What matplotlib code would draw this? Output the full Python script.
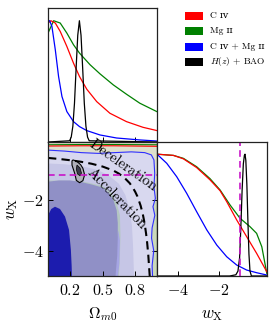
import matplotlib
matplotlib.use('Agg')
import matplotlib.pyplot as plt
from matplotlib.patches import Rectangle

plt.rcParams['mathtext.fontset'] = 'cm'
plt.rcParams['axes.unicode_minus'] = True

# ---------------- data ----------------
om_ticks = [0.2, 0.5, 0.8]
om_ticklabels = [r'$0.2$', r'$0.5$', r'$0.8$']
w_ticks = [-4, -2]
w_ticklabels = [r'$-4$', r'$-2$']

# 1D posterior of Omega_m0
om_green = [0.0, 0.052, 0.112, 0.173, 0.234, 0.289, 0.386, 0.477, 0.599, 0.72, 0.842, 1.0]
p_green = [0.898, 1.0, 0.981, 0.898, 0.802, 0.733, 0.637, 0.562, 0.471, 0.394, 0.32, 0.25]
om_red = [0.0, 0.027, 0.067, 0.112, 0.173, 0.234, 0.289, 0.356, 0.447, 0.568, 0.72, 0.872, 1.0]
p_red = [0.981, 1.0, 0.981, 0.912, 0.788, 0.65, 0.54, 0.435, 0.333, 0.237, 0.168, 0.121, 0.094]
om_blue = [0.0, 0.015, 0.036, 0.067, 0.097, 0.128, 0.173, 0.234, 0.289, 0.356, 0.477, 0.629, 0.842, 1.0]
p_blue = [1.0, 1.0, 0.953, 0.76, 0.54, 0.375, 0.251, 0.168, 0.127, 0.094, 0.058, 0.033, 0.017, 0.008]
om_black = [0.0, 0.198, 0.213, 0.228, 0.243, 0.258, 0.273, 0.288, 0.303, 0.318, 0.333, 0.348, 0.363, 0.378, 1.0]
p_black = [0.0, 0.01, 0.04, 0.13, 0.32, 0.61, 0.88, 1.0, 0.88, 0.61, 0.32, 0.13, 0.04, 0.01, 0.0]

# 1D posterior of w_X
w_green = [-5.0, -4.21, -3.73, -3.09, -2.45, -1.96, -1.48, -1.0, -0.52, -0.2, 0.05, 0.2, 0.29]
q_green = [1.0, 0.99, 0.966, 0.897, 0.80, 0.706, 0.583, 0.474, 0.405, 0.35, 0.24, 0.104, 0.022]
w_red = [-5.0, -4.21, -3.73, -3.09, -2.45, -1.96, -1.64, -1.16, -0.68, -0.2, 0.29]
q_red = [1.0, 0.99, 0.962, 0.89, 0.79, 0.70, 0.61, 0.46, 0.323, 0.186, 0.035]
w_blue = [-5.0, -4.53, -4.05, -3.57, -3.09, -2.6, -2.12, -1.64, -1.16, -0.68, -0.2, 0.29]
q_blue = [1.0, 0.925, 0.815, 0.679, 0.528, 0.378, 0.254, 0.158, 0.09, 0.049, 0.027, 0.008]
w_black = [-5.0, -1.5, -1.2, -1.1, -1.02, -0.96, -0.9, -0.84, -0.79, -0.76, -0.72, -0.67, -0.62, -0.57, -0.52, -0.45, 0.3]
q_black = [0.0, 0.0, 0.01, 0.04, 0.15, 0.4, 0.7, 0.92, 0.99, 1.0, 0.95, 0.75, 0.45, 0.18, 0.04, 0.0, 0.0]

# 2D contours (Omega_m0, w_X)
green_edge_om = [0.9, 1.0, 1.0, 0.9]
green_edge_w = [-2.0, -2.0, -5.1, -5.1]
blue2_om = [0.0, 0.153, 0.306, 0.459, 0.612, 0.765, 0.887, 0.948, 0.972, 0.979, 0.972, 0.985,
            0.963, 0.98, 0.955, 0.95, 0.97, 0.955, 0.96]
blue2_w = [-0.02, -0.06, -0.12, -0.15, -0.12, -0.09, -0.12, -0.21, -0.41, -0.94, -1.47, -1.93,
           -2.26, -2.6, -3.1, -3.5, -4.0, -4.6, -5.1]
band_om = [0.0, 0.15, 0.3, 0.45, 0.55, 0.65, 0.71, 0.75, 0.77, 0.78, 0.79, 0.0]
band_w = [-0.55, -0.58, -0.65, -0.8, -1.0, -1.35, -1.8, -2.4, -3.0, -3.8, -5.1, -5.1]
sliver_om = [0.0, 0.3, 0.5, 0.58, 0.63, 0.66, 0.665, 0.66, 0.65, 0.0]
sliver_w = [-1.22, -1.24, -1.44, -1.7, -2.1, -2.6, -3.4, -4.2, -5.1, -5.1]
peri_om = [0.55, 0.6, 0.645, 0.66, 0.655, 0.64]
peri_w = [-5.1, -4.3, -3.2, -3.6, -4.5, -5.1]
mid_om = [0.0, 0.1, 0.2, 0.3, 0.4, 0.5, 0.56, 0.6, 0.63, 0.64, 0.64, 0.635, 0.625, 0.618, 0.0]
mid_w = [-1.27, -1.22, -1.22, -1.28, -1.38, -1.5, -1.72, -2.0, -2.4, -2.9, -3.5, -4.2, -4.7, -5.1, -5.1]
navy_om = [0.0, 0.03, 0.064, 0.11, 0.156, 0.193, 0.21, 0.217, 0.22, 0.0]
navy_w = [-2.6, -2.35, -2.26, -2.35, -2.65, -3.18, -3.97, -4.6, -5.1, -5.1]
red_top_om = [0.0, 0.3, 0.6, 1.0]
red_top_w = [0.14, 0.15, 0.15, 0.13]
green_top_om = [0.0, 0.3, 0.6, 1.0]
green_top_w = [0.19, 0.2, 0.2, 0.19]
bao2_om = [0.229, 0.26, 0.30, 0.32, 0.336, 0.32, 0.29, 0.26, 0.245, 0.22, 0.22]
bao2_w = [-0.41, -0.45, -0.6, -0.74, -1.0, -1.23, -1.31, -1.22, -0.94, -0.61, -0.45]
bao1_om = [0.266, 0.294, 0.307, 0.294, 0.27, 0.26]
bao1_w = [-0.61, -0.73, -0.93, -1.04, -0.96, -0.77]
q0_om = [0.0, 0.1, 0.2, 0.3, 0.4, 0.5, 0.6, 0.65, 0.7, 0.75, 0.78, 0.8, 0.82, 0.85, 0.87, 0.88,
         0.89, 0.9, 0.91, 0.92, 0.934]
q0_w = [-0.33, -0.37, -0.42, -0.48, -0.56, -0.67, -0.83, -0.95, -1.11, -1.33, -1.52, -1.67, -1.85,
        -2.22, -2.56, -2.78, -3.03, -3.33, -3.7, -4.17, -5.05]
w_lcdm = -1.0

legend_labels = ['C \u026a\u1d20', 'Mg \u026a\u026a', 'C \u026a\u1d20 + Mg \u026a\u026a', r'$H(z)$ + BAO']
legend_colors = ['#ff0000', '#008000', '#0000ff', '#000000']

# ---------------- figure ----------------
W, H = 274, 332
fig = plt.figure(figsize=(W / 100, H / 100), dpi=100)

def fx(px):
    return px / W

def fy(py):
    return 1 - py / H

ax1 = fig.add_axes([fx(48), fy(142), 109 / W, 134 / H])
ax2 = fig.add_axes([fx(48), fy(276), 109 / W, 134 / H])
ax3 = fig.add_axes([fx(157), fy(276), 110 / W, 134 / H])

lw = 0.9
for ax in (ax1, ax2, ax3):
    for s in ax.spines.values():
        s.set_linewidth(0.9)
        s.set_color('#222222')
    ax.tick_params(direction='in', length=3.5, width=0.7, labelsize=11.5, pad=5)

# top-left: 1D Omega
ax1.plot(om_green, p_green, color='#008000', lw=lw)
ax1.plot(om_red, p_red, color='#ff0000', lw=lw)
ax1.plot(om_blue, p_blue, color='#0000ff', lw=lw)
ax1.plot(om_black, p_black, color='#000000', lw=lw)
ax1.set_xlim(0, 1)
ax1.set_ylim(0, 1.105)
ax1.set_xticks(om_ticks)
ax1.set_xticklabels([])
ax1.set_yticks([])

# bottom-left: 2D
ax2.set_facecolor('#dfe0cc')
ax2.fill(green_edge_om, green_edge_w, color='#cbd9b9', lw=0)
ax2.fill(blue2_om + [0.0], blue2_w + [-5.1], color='#d8d8ef', lw=0)
ax2.plot(blue2_om, blue2_w, color='#3030ff', lw=0.8)
ax2.fill(band_om, band_w, color='#c6c6e6', lw=0)
ax2.fill(sliver_om, sliver_w, color='#b4c6c2', lw=0)
ax2.fill(peri_om, peri_w, color='#a5a5e3', lw=0)
ax2.fill(mid_om, mid_w, color='#9090c6', lw=0)
ax2.fill(navy_om, navy_w, color='#1c1cae', lw=0)
ax2.plot(green_top_om, green_top_w, color='#008000', lw=0.8)
ax2.plot(red_top_om, red_top_w, color='#ff0000', lw=0.8)
ax2.fill(bao2_om, bao2_w, facecolor='#b0b0ba', edgecolor='black', lw=0.8)
ax2.fill(bao1_om, bao1_w, facecolor='#3a3a4a', edgecolor='black', lw=0.5)
ax2.plot(q0_om, q0_w, color='black', lw=1.5, ls=(0, (4, 2.5)))
ax2.axhline(w_lcdm, color='#c814c8', lw=1.2, ls=(0, (4, 2.5)))
ax2.text(0.69, -0.64, 'Deceleration', rotation=-35, ha='center', va='center',
         fontsize=10.5, family='cmr10')
ax2.text(0.63, -1.93, 'Acceleration', rotation=-46, ha='center', va='center',
         fontsize=10.5, family='cmr10')
ax2.set_xlim(0, 1)
ax2.set_ylim(-5, 0.3)
ax2.set_xticks(om_ticks)
ax2.set_xticklabels(om_ticklabels)
ax2.set_yticks(w_ticks)
ax2.set_yticklabels(w_ticklabels)
ax2.tick_params(axis='y', right=True, pad=3)
ax2.set_xlabel(r'$\Omega_{m0}$', fontsize=11.5, labelpad=5)
ax2.set_ylabel(r'$w_{\rm X}$', fontsize=12, labelpad=1)

# right: 1D w_X
ax3.plot(w_green, q_green, color='#008000', lw=lw)
ax3.plot(w_red, q_red, color='#ff0000', lw=lw)
ax3.plot(w_blue, q_blue, color='#0000ff', lw=lw)
ax3.plot(w_black, q_black, color='#000000', lw=lw)
ax3.axvline(w_lcdm, color='#c814c8', lw=1.2, ls=(0, (4, 2.5)))
ax3.set_xlim(-5, 0.3)
ax3.set_ylim(0, 1.1)
ax3.set_xticks(w_ticks)
ax3.set_xticklabels(w_ticklabels)
ax3.set_yticks([])
ax3.set_xlabel(r'$w_{\rm X}$', fontsize=12, labelpad=5)

# legend (manual)
row_y = [15.7, 31.2, 46.5, 61.7]
for yy, lab, col in zip(row_y, legend_labels, legend_colors):
    fig.add_artist(Rectangle((fx(185), fy(yy + 4)), 18 / W, 8 / H, transform=fig.transFigure,
                             facecolor=col, edgecolor='none'))
    fig.text(fx(210.5), fy(yy), lab, ha='left', va='center', fontsize=6.8,
             family=['cmr10', 'DejaVu Serif'])

fig.savefig('out.png', dpi=100)
